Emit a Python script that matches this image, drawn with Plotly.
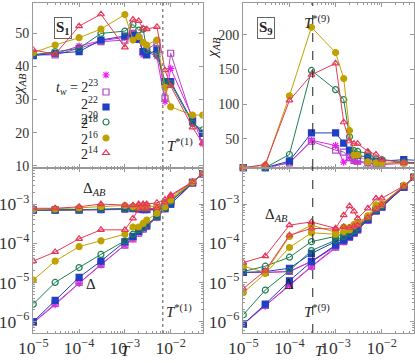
import math
import plotly.graph_objects as go

# temperatures (shared by every panel)
T = [1e-5, 3e-5, 1e-4, 3e-4, 1e-3, 1.5e-3, 2e-3, 2.5e-3, 3e-3, 5e-3, 7.5e-3, 1e-2, 3e-2, 5e-2]
TW_EXP = [23, 22, 20, 18, 16, 14]

# sample S1, chi_AB
chi_s1_23 = [43.7, 43.8, 46.2, 47.8, 48.8, 50.0, 49.0, 43.5, 44.5, 43.0, 29.4, 39.4, 24.6, 16.6]
chi_s1_22 = [43.5, 43.5, 45.5, 47.5, 48.0, 50.0, 48.5, 44.5, 45.0, 47.2, 30.4, 44.0, 23.8, 18.8]
chi_s1_20 = [43.3, 44.0, 44.5, 48.0, 49.2, 49.5, 48.2, 44.5, 43.5, 45.0, 35.4, 35.4, 23.3, 19.8]
chi_s1_18 = [43.5, 44.5, 45.5, 50.0, 50.7, 52.7, 51.0, 51.3, 45.0, 43.5, 35.4, 34.9, 22.8, 20.8]
chi_s1_16 = [44.2, 46.5, 48.7, 51.3, 55.7, 48.0, 49.0, 47.3, 46.5, 48.0, 33.7, 27.8, 25.3, 25.3]
chi_s1_14 = [45.0, 43.7, 52.2, 55.8, 45.8, 54.2, 53.8, 51.5, 51.3, 52.0, 38.9, 34.1, 21.6, 16.8]

# sample S9, chi_AB
chi_s9_23 = [8.5, 8.5, 15.5, 48.0, 40.4, 16.5, 23.0, 18.0, 16.5, 14.5, 14.5, 13.0, 14.5, 14.5]
chi_s9_22 = [8.5, 8.5, 15.5, 46.6, 33.7, 31.0, 23.0, 19.0, 18.0, 15.5, 14.5, 14.5, 16.5, 15.5]
chi_s9_20 = [8.5, 8.5, 18.0, 58.6, 58.6, 44.0, 33.7, 27.5, 26.0, 24.0, 18.0, 18.0, 20.0, 19.3]
chi_s9_18 = [8.5, 8.5, 27.5, 148.7, 121.0, 106.5, 53.0, 33.0, 32.0, 29.0, 21.0, 20.0, 16.5, 15.5]
chi_s9_16 = [8.5, 12.0, 112.0, 211.0, 174.5, 137.0, 62.0, 26.5, 26.5, 17.0, 15.5, 14.5, 14.5, 14.5]
chi_s9_14 = [8.5, 13.0, 105.5, 142.5, 159.0, 74.0, 46.6, 43.0, 43.0, 32.0, 27.5, 20.0, 15.5, 14.5]

# sample S1, Delta_AB and Delta
dab_s1_23 = [6.9e-4, 6.9e-4, 6.9e-4, 7.1e-4, 7.3e-4, 7.5e-4, 7.3e-4, 7.1e-4, 7.1e-4, 7.1e-4, 9.0e-4, 1.2e-3, 3.6e-3, 6.0e-3]
dab_s1_22 = [6.9e-4, 6.9e-4, 7.0e-4, 7.2e-4, 7.4e-4, 7.6e-4, 7.4e-4, 7.2e-4, 7.2e-4, 7.2e-4, 9.0e-4, 1.2e-3, 3.6e-3, 6.0e-3]
dab_s1_20 = [7.1e-4, 7.1e-4, 7.1e-4, 7.3e-4, 7.6e-4, 7.8e-4, 7.6e-4, 7.3e-4, 7.3e-4, 7.3e-4, 9.5e-4, 1.2e-3, 3.6e-3, 6.0e-3]
dab_s1_18 = [7.0e-4, 7.0e-4, 7.1e-4, 7.4e-4, 7.8e-4, 7.8e-4, 7.8e-4, 7.8e-4, 7.6e-4, 7.6e-4, 9.5e-4, 1.25e-3, 3.6e-3, 6.0e-3]
dab_s1_16 = [7.3e-4, 7.5e-4, 8.0e-4, 8.6e-4, 9.2e-4, 8.6e-4, 8.6e-4, 8.8e-4, 9.0e-4, 8.5e-4, 1.1e-3, 1.4e-3, 3.6e-3, 6.0e-3]
dab_s1_14 = [7.8e-4, 7.8e-4, 8.5e-4, 1.0e-3, 9.4e-4, 9.4e-4, 1.0e-3, 1.0e-3, 1.0e-3, 1.08e-3, 1.3e-3, 1.7e-3, 3.7e-3, 6.0e-3]

d_s1_23 = [9.3e-7, 2.7e-6, 9.5e-6, 2.8e-5, 8.8e-5, 1.3e-4, 1.8e-4, 2.3e-4, 2.7e-4, 4.5e-4, 7.5e-4, 1.0e-3, 3.4e-3, 6.0e-3]
d_s1_22 = [9.5e-7, 2.9e-6, 1.0e-5, 2.9e-5, 9.0e-5, 1.3e-4, 1.8e-4, 2.3e-4, 2.7e-4, 4.6e-4, 7.5e-4, 1.0e-3, 3.4e-3, 6.0e-3]
d_s1_20 = [1.0e-6, 3.5e-6, 1.35e-5, 3.5e-5, 1.1e-4, 1.5e-4, 2.0e-4, 2.5e-4, 2.9e-4, 4.8e-4, 7.8e-4, 1.0e-3, 3.5e-3, 6.0e-3]
d_s1_18 = [2.8e-6, 1.0e-5, 2.4e-5, 5.2e-5, 1.15e-4, 1.7e-4, 2.2e-4, 2.5e-4, 3.0e-4, 4.8e-4, 7.8e-4, 1.15e-3, 3.5e-3, 6.0e-3]
d_s1_16 = [1.15e-5, 3.5e-5, 8.2e-5, 1.15e-4, 1.7e-4, 2.6e-4, 2.6e-4, 3.2e-4, 3.9e-4, 5.8e-4, 8.5e-4, 1.26e-3, 3.6e-3, 6.0e-3]
d_s1_14 = [3.5e-5, 6.0e-5, 1.3e-4, 2.2e-4, 2.2e-4, 4.3e-4, 7.5e-4, 7.5e-4, 7.5e-4, 8.0e-4, 1.1e-3, 1.6e-3, 3.6e-3, 6.0e-3]

# sample S9, Delta_AB and Delta
dab_s9_23 = [1.8e-5, 1.8e-5, 1.9e-5, 3.4e-5, 8.3e-5, 1.2e-4, 1.5e-4, 1.8e-4, 2.2e-4, 4.0e-4, 6.8e-4, 8.5e-4, 2.7e-3, 4.8e-3]
dab_s9_22 = [1.8e-5, 1.8e-5, 1.9e-5, 3.5e-5, 8.5e-5, 1.2e-4, 1.5e-4, 1.8e-4, 2.2e-4, 4.0e-4, 6.8e-4, 8.5e-4, 2.7e-3, 4.8e-3]
dab_s9_20 = [1.8e-5, 1.9e-5, 2.3e-5, 5.5e-5, 1.1e-4, 1.3e-4, 1.6e-4, 2.0e-4, 2.4e-4, 4.2e-4, 7.0e-4, 8.8e-4, 2.8e-3, 4.8e-3]
dab_s9_18 = [1.9e-5, 2.6e-5, 4.4e-5, 1.1e-4, 1.5e-4, 1.7e-4, 1.9e-4, 2.2e-4, 2.6e-4, 4.4e-4, 7.2e-4, 9.0e-4, 2.8e-3, 4.8e-3]
dab_s9_16 = [2.6e-5, 1.8e-5, 1.5e-4, 2.9e-4, 1.9e-4, 2.6e-4, 2.5e-4, 3.0e-4, 3.3e-4, 5.0e-4, 9.5e-4, 1.0e-3, 3.0e-3, 4.8e-3]
dab_s9_14 = [3.2e-5, 4.7e-5, 2.9e-4, 3.5e-4, 2.4e-4, 5.2e-4, 8.9e-4, 6.5e-4, 4.3e-4, 7.8e-4, 1.4e-3, 1.4e-3, 2.9e-3, 4.8e-3]

d_s9_23 = [8.6e-7, 2.5e-6, 8.3e-6, 2.5e-5, 7.8e-5, 1.1e-4, 1.4e-4, 1.8e-4, 2.2e-4, 3.9e-4, 6.6e-4, 8.3e-4, 2.7e-3, 4.8e-3]
d_s9_22 = [8.6e-7, 2.6e-6, 8.6e-6, 2.6e-5, 8.0e-5, 1.1e-4, 1.4e-4, 1.8e-4, 2.2e-4, 3.9e-4, 6.6e-4, 8.3e-4, 2.7e-3, 4.8e-3]
d_s9_20 = [8.6e-7, 2.8e-6, 1.1e-5, 3.4e-5, 9.0e-5, 1.2e-4, 1.5e-4, 1.9e-4, 2.3e-4, 4.0e-4, 6.8e-4, 8.5e-4, 2.7e-3, 4.8e-3]
d_s9_18 = [1.5e-6, 6.4e-6, 2.0e-5, 6.5e-5, 1.2e-4, 1.5e-4, 1.8e-4, 2.1e-4, 2.5e-4, 4.3e-4, 7.0e-4, 9.0e-4, 2.8e-3, 4.8e-3]
d_s9_16 = [5.5e-6, 1.7e-5, 7.8e-5, 1.85e-4, 1.7e-4, 2.0e-4, 2.2e-4, 2.8e-4, 3.1e-4, 4.8e-4, 8.0e-4, 9.8e-4, 3.0e-3, 4.8e-3]
d_s9_14 = [7.0e-6, 2.0e-5, 1.6e-4, 2.4e-4, 2.3e-4, 2.6e-4, 2.5e-4, 2.7e-4, 2.9e-4, 4.5e-4, 7.5e-4, 9.5e-4, 2.8e-3, 4.8e-3]

T_STAR_1 = 6.7e-3
T_STAR_9 = 3.2e-4

CHI_S1 = [chi_s1_23, chi_s1_22, chi_s1_20, chi_s1_18, chi_s1_16, chi_s1_14]
CHI_S9 = [chi_s9_23, chi_s9_22, chi_s9_20, chi_s9_18, chi_s9_16, chi_s9_14]
DAB_S1 = [dab_s1_23, dab_s1_22, dab_s1_20, dab_s1_18, dab_s1_16, dab_s1_14]
D_S1 = [d_s1_23, d_s1_22, d_s1_20, d_s1_18, d_s1_16, d_s1_14]
DAB_S9 = [dab_s9_23, dab_s9_22, dab_s9_20, dab_s9_18, dab_s9_16, dab_s9_14]
D_S9 = [d_s9_23, d_s9_22, d_s9_20, d_s9_18, d_s9_16, d_s9_14]

COLORS = ['#f01cf0', '#b048c4', '#1f3fc4', '#1f7f52', '#bfa200', '#e8385a']
SYMBOLS = ['asterisk-open', 'square-open', 'square', 'circle-open', 'circle', 'triangle-up-open']

W, H = 415, 363
FONT = 'Liberation Serif'
LEGEND_ROWS = [75, 92, 107, 122, 138, 153]


def px(x):
    return x / W


def py(y):
    return 1 - y / H


def marker(i):
    return dict(symbol=SYMBOLS[i], size=6, color=COLORS[i],
                line=dict(color=COLORS[i], width=1.2))


fig = go.Figure()


def add_series(ys, xa, ya, clip=True):
    for i, y in enumerate(ys):
        fig.add_trace(go.Scatter(
            x=T, y=y, xaxis=xa, yaxis=ya, mode='lines+markers',
            showlegend=False, cliponaxis=clip,
            line=dict(color=COLORS[i], width=1), marker=marker(i)))


add_series(CHI_S1, 'x', 'y')
add_series(CHI_S9, 'x2', 'y2', clip=False)
add_series(DAB_S1, 'x3', 'y3')
add_series(D_S1, 'x3', 'y3')
add_series(DAB_S9, 'x4', 'y4')
add_series(D_S9, 'x4', 'y4')

# legend keys: marker only, one small legend per waiting time
for i, e in enumerate(TW_EXP):
    fig.add_trace(go.Scatter(
        x=[None], y=[None], mode='markers', name=' ', marker=marker(i),
        legend='legend' if i == 0 else f'legend{i + 1}'))

xl = [px(33.3), px(202.7)]
xr = [px(243.3), px(414)]
yt = [py(168), py(3)]
yb = [py(333), py(168)]
xrange = [-5, math.log10(0.05)]

axis_common = dict(showline=True, linecolor='#999', linewidth=1.3, mirror='allticks',
                   ticks='inside', ticklen=4, tickcolor='#999', showgrid=False,
                   zeroline=False, automargin=False,
                   tickfont=dict(family=FONT, size=14, color='#333'))
log_minor = dict(ticks='inside', ticklen=2, tickcolor='#999', showgrid=False)

xlog = dict(type='log', range=xrange, dtick=1, exponentformat='power',
            minor=log_minor, **axis_common)

layout = dict(
    width=W, height=H, margin=dict(l=0, r=0, t=0, b=0),
    plot_bgcolor='white', paper_bgcolor='white',
    font=dict(family=FONT, color='#222'),
    xaxis=dict(domain=xl, anchor='y', showticklabels=False, **xlog),
    xaxis2=dict(domain=xr, anchor='y2', showticklabels=False, **xlog),
    xaxis3=dict(domain=xl, anchor='y3', **xlog),
    xaxis4=dict(domain=xr, anchor='y4', **xlog),
    yaxis=dict(domain=yt, anchor='x', range=[9.3, 59.2], tickvals=[10, 20, 30, 40, 50],
               **axis_common),
    yaxis2=dict(domain=yt, anchor='x2', range=[8, 246], tickvals=[50, 100, 150, 200],
                **axis_common),
    yaxis3=dict(domain=yb, anchor='x3', type='log', range=[-6.29, -2.08], dtick=1,
                exponentformat='power', minor=log_minor, **axis_common),
    yaxis4=dict(domain=yb, anchor='x4', type='log', range=[-6.29, -2.08], dtick=1,
                exponentformat='power', minor=log_minor, **axis_common),
)

for i, row in enumerate(LEGEND_ROWS):
    key = 'legend' if i == 0 else f'legend{i + 1}'
    layout[key] = dict(x=px(86), y=py(row), xanchor='left', yanchor='middle',
                       bgcolor='rgba(0,0,0,0)', font=dict(size=10), itemwidth=30)

fig.update_layout(**layout)

# dashed markers for the crossover temperatures
for xa, ya in [('x', 'y'), ('x3', 'y3')]:
    fig.add_shape(type='line', xref=xa, yref=ya + ' domain', x0=T_STAR_1, x1=T_STAR_1,
                  y0=0, y1=1, line=dict(color='#888', width=1.5, dash='dot'))
for xa, ya in [('x2', 'y2'), ('x4', 'y4')]:
    fig.add_shape(type='line', xref=xa, yref=ya + ' domain', x0=T_STAR_9, x1=T_STAR_9,
                  y0=0, y1=1, line=dict(color='#222', width=1, dash='dash'))


def label(text, x, y, size=15, **kw):
    fig.add_annotation(text=text, x=px(x), y=py(y), xref='paper', yref='paper',
                       showarrow=False, font=dict(family=FONT, size=size, color='#222'), **kw)


chi_text = '<i>χ</i><sub><i>AB</i></sub>'
label(chi_text, 8, 71, textangle=-90)
label(chi_text, 213, 35, textangle=-90)
label('<b>S</b><sub><b>1</b></sub>', 54, 17, bordercolor='#666', borderwidth=1, borderpad=1)
label('<b>S</b><sub><b>9</b></sub>', 266, 17, bordercolor='#666', borderwidth=1, borderpad=1)
label('<i>T</i><sup>*(1)</sup>', 180, 145)
label('<i>T</i><sup>*(1)</sup>', 179, 322)
label('<i>T</i><sup>*(9)</sup>', 332, 11)
label('<i>T</i><sup>*(9)</sup>', 332, 322)
label('Δ<sub><i>AB</i></sub>', 81, 189)
label('Δ', 84, 294)
label('Δ<sub><i>AB</i></sub>', 290, 215)
label('Δ', 296, 294)
label('<i>T</i>', 119, 361)
label('<i>T</i>', 327, 361)

for k, (e, yy) in enumerate(zip(TW_EXP, LEGEND_ROWS)):
    txt = f'2<sup>{e}</sup>'
    if k == 0:
        txt = '<i>t</i><sub><i>w</i></sub> = ' + txt
    label(txt, 100, yy, size=14, xanchor='right')

# drop the default page margin so the figure fills the window exactly
fig.write_html('out.html', config={'displayModeBar': False},
               post_script='document.body.style.margin = "0";')
